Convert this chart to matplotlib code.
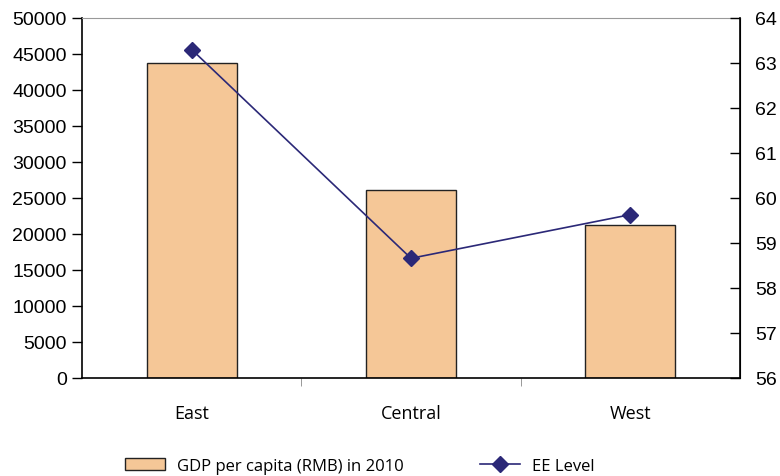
import numpy as np
import matplotlib
matplotlib.use("Agg")
import matplotlib.pyplot as plt
from matplotlib.ticker import FixedLocator

# data
regions = ["East", "Central", "West"]
gdp = [43750, 26150, 21300]        # GDP per capita (RMB) in 2010
ee_level = [63.30, 58.66, 59.63]   # EE Level

bar_color = "#F5C797"
line_color = "#2B2877"

fig = plt.figure(figsize=(7.8, 4.77), dpi=100)
ax = fig.add_axes([82/780, 1 - 379/477, (740-82)/780, (379-19)/477])

x = np.arange(len(regions))
bars = ax.bar(x, gdp, width=0.41, color=bar_color, edgecolor="#222222", linewidth=1.0,
              label="GDP per capita (RMB) in 2010", zorder=2)
ax.set_xlim(-0.5, 2.5)
ax.set_ylim(0, 50000)
ax.set_yticks(np.arange(0, 50001, 5000))
ax.set_xticks(x)
ax.set_xticklabels(regions, family="Open Sans", fontsize=13)
ax.xaxis.set_minor_locator(FixedLocator([0.5, 1.5]))
ax.tick_params(axis="x", which="major", length=0, pad=19)
ax.tick_params(axis="x", which="minor", length=6, direction="out", color="#888888")
ax.tick_params(axis="y", length=7, direction="out", width=1, pad=4)
for lab in ax.get_yticklabels():
    lab.set_family("Liberation Sans")
    lab.set_fontsize(14)

ax.spines["top"].set_color("#999999")
ax.spines["left"].set_linewidth(1.2)
ax.spines["bottom"].set_linewidth(1.2)

ax2 = ax.twinx()
line, = ax2.plot(x, ee_level, color=line_color, linewidth=1.2, marker="D", markersize=8,
                 label="EE Level", zorder=3)
ax2.set_ylim(56, 64)
ax2.set_yticks(np.arange(56, 65, 1))
ax2.tick_params(axis="y", length=7, direction="in", width=1, pad=11)
for lab in ax2.get_yticklabels():
    lab.set_family("Liberation Sans")
    lab.set_fontsize(14)
ax2.spines["top"].set_visible(False)
ax2.spines["left"].set_visible(False)
ax2.spines["bottom"].set_visible(False)
ax2.spines["right"].set_linewidth(1.2)

fig.legend(handles=[bars, line], labels=["GDP per capita (RMB) in 2010", "EE Level"],
           loc="center", bbox_to_anchor=(360/780, 1 - 467/477), ncol=2, frameon=False,
           prop={"family": "Open Sans", "size": 12}, handlelength=2.4, handleheight=0.75,
           columnspacing=4.6, handletextpad=0.7, borderpad=0.2)

fig.savefig("out.png", dpi=100)
